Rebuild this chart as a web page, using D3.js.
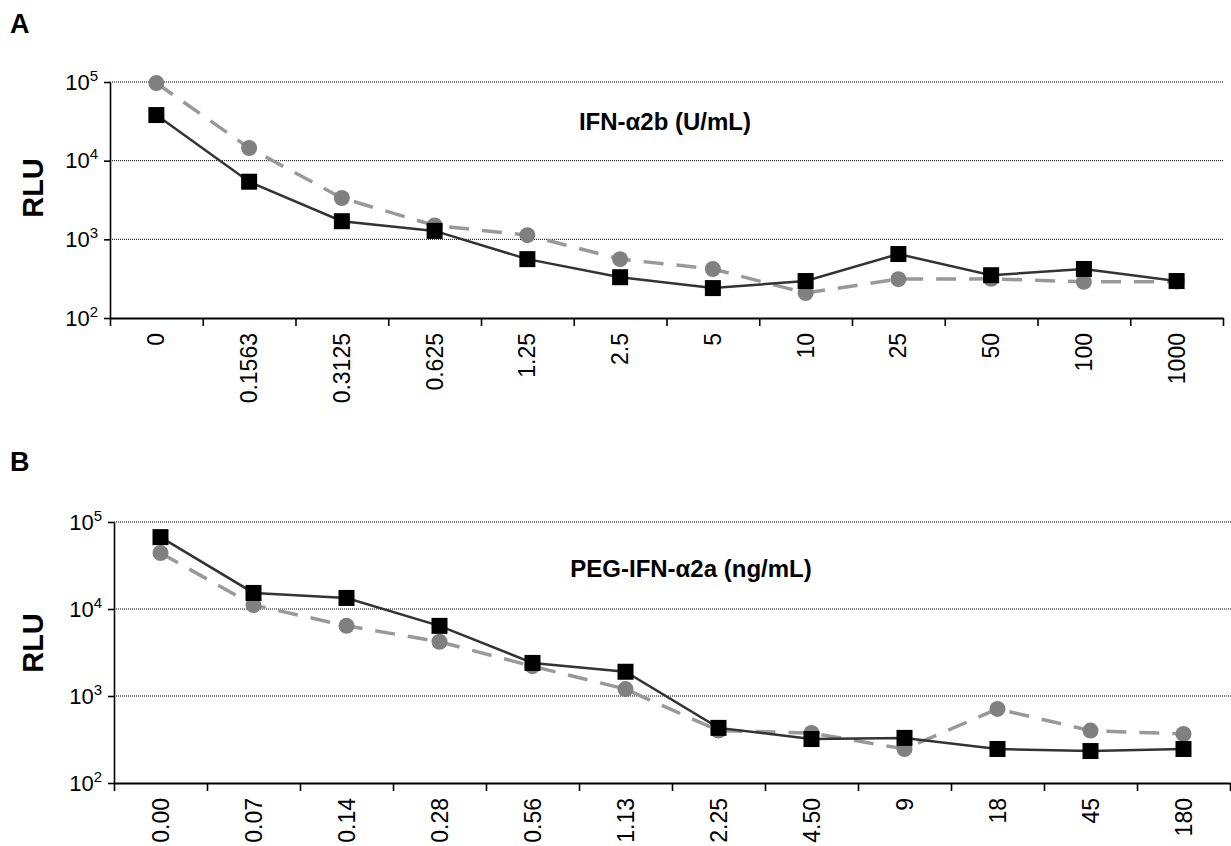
<!DOCTYPE html>
<html>
<head>
<meta charset="utf-8">
<script src="https://cdn.jsdelivr.net/npm/d3@7"></script>
<style>
  body { margin: 0; background: #fff; }
  text { font-family: "Liberation Sans", Arial, sans-serif; }
</style>
</head>
<body>
<div id="canvas"></div>
<script>
"use strict"

/* ---------- DATA ---------- */
let doseA = ["0", "0.1563", "0.3125", "0.625", "1.25", "2.5", "5", "10", "25", "50", "100", "1000"];
let squaresA = [38000, 5400, 1700, 1280, 560, 330, 240, 295, 650, 350, 420, 295];
let circlesA = [97000, 14500, 3350, 1500, 1130, 560, 420, 208, 312, 315, 288, 290];

let doseB = ["0.00", "0.07", "0.14", "0.28", "0.56", "1.13", "2.25", "4.50", "9", "18", "45", "180"];
let squaresB = [67000, 15300, 13400, 6400, 2400, 1900, 430, 320, 330, 246, 233, 246];
let circlesB = [44000, 11100, 6400, 4200, 2200, 1200, 400, 376, 246, 710, 400, 366];

let yTicks = [100, 1000, 10000, 100000];

let drawing = d3.select("#canvas")
  .append("svg")
  .attr("width", 1231)
  .attr("height", 846);

/* one panel = log y axis, dotted grid, category x axis, two series */
function drawPanel(p) {
  let y = d3.scaleLog().domain([100, 100000]).range([p.bottom, p.top]);
  let x = d3.scaleBand().domain(p.cats).range([p.left, p.right]);
  let xEdges = d3.scaleLinear().domain([0, p.cats.length]).range([p.left, p.right]);

  // letter
  drawing.append("text")
    .attr("x", 10).attr("y", p.letterY)
    .attr("font-size", 27).attr("font-weight", "bold")
    .text(p.letter);

  // dotted gridlines
  drawing.append("g").selectAll("line")
    .data(yTicks.slice(1))
    .join("line")
    .attr("x1", p.left).attr("x2", p.right + 1)
    .attr("y1", d => y(d)).attr("y2", d => y(d))
    .attr("stroke", "#000").attr("stroke-width", 1)
    .attr("stroke-dasharray", "1,1");

  // y axis
  let yAxis = drawing.append("g")
    .attr("transform", `translate(${p.left},0)`)
    .call(d3.axisLeft(y).tickValues(yTicks).tickSize(6).tickSizeOuter(0).tickPadding(6));
  yAxis.select(".domain").attr("stroke-width", 1.6);
  yAxis.selectAll(".tick line").attr("stroke-width", 1.6);
  yAxis.selectAll(".tick text")
    .attr("font-size", 22).attr("fill", "#000")
    .attr("font-family", "Liberation Sans, Arial, sans-serif")
    .text(null)
    .each(function (d) {
      let t = d3.select(this);
      t.append("tspan").text("10");
      t.append("tspan").attr("dy", -9).attr("font-size", 15).text(Math.round(Math.log10(d)));
    });

  // x axis ticks at category edges
  let xAxis = drawing.append("g")
    .attr("transform", `translate(0,${p.bottom})`)
    .call(d3.axisBottom(xEdges).tickValues(d3.range(p.cats.length + 1)).tickSize(8).tickSizeOuter(0).tickFormat(""));
  xAxis.select(".domain").attr("stroke-width", 2.2);
  xAxis.selectAll(".tick line").attr("stroke-width", 1.6);

  // x labels, rotated
  let xLabels = drawing.append("g")
    .attr("transform", `translate(0,${p.bottom})`)
    .call(d3.axisBottom(x).tickSize(0));
  xLabels.select(".domain").remove();
  xLabels.selectAll(".tick text")
    .attr("font-size", 23).attr("fill", "#000")
    .attr("font-family", "Liberation Sans, Arial, sans-serif")
    .attr("transform", "rotate(-90)")
    .attr("text-anchor", "end")
    .attr("x", -15).attr("y", 0).attr("dy", "0.35em");

  // RLU
  drawing.append("text")
    .attr("transform", `translate(43,${p.rluY}) rotate(-90)`)
    .attr("text-anchor", "middle")
    .attr("font-size", 29).attr("font-weight", "bold")
    .text("RLU");

  // panel title
  drawing.append("text")
    .attr("x", p.titleX).attr("y", p.titleY)
    .attr("text-anchor", "middle")
    .attr("font-size", 24).attr("font-weight", "bold")
    .text(p.title);

  let line = d3.line()
    .x((d, i) => x(p.cats[i]) + x.bandwidth() / 2)
    .y(d => y(d));

  // gray dashed series (circles)
  drawing.append("path")
    .attr("d", line(p.circles))
    .attr("fill", "none").attr("stroke", "#999")
    .attr("stroke-width", 3.5).attr("stroke-dasharray", "20,13");
  drawing.append("g").selectAll("circle")
    .data(p.circles)
    .join("circle")
    .attr("cx", (d, i) => x(p.cats[i]) + x.bandwidth() / 2)
    .attr("cy", d => y(d))
    .attr("r", 8)
    .attr("fill", "#808080");

  // black solid series (squares)
  drawing.append("path")
    .attr("d", line(p.squares))
    .attr("fill", "none").attr("stroke", "#333")
    .attr("stroke-width", 2.5);
  drawing.append("g").selectAll("rect")
    .data(p.squares)
    .join("rect")
    .attr("x", (d, i) => x(p.cats[i]) + x.bandwidth() / 2 - 8)
    .attr("y", d => y(d) - 8)
    .attr("width", 16).attr("height", 16)
    .attr("fill", "#000");
}

drawPanel({
  letter: "A", letterY: 33,
  cats: doseA, squares: squaresA, circles: circlesA,
  left: 110, right: 1223, top: 82, bottom: 318,
  rluY: 188, title: "IFN-\u03b12b (U/mL)", titleX: 665, titleY: 130
});

drawPanel({
  letter: "B", letterY: 471,
  cats: doseB, squares: squaresB, circles: circlesB,
  left: 114, right: 1230, top: 522, bottom: 783,
  rluY: 643, title: "PEG-IFN-\u03b12a (ng/mL)", titleX: 691, titleY: 577
});
</script>
</body>
</html>
